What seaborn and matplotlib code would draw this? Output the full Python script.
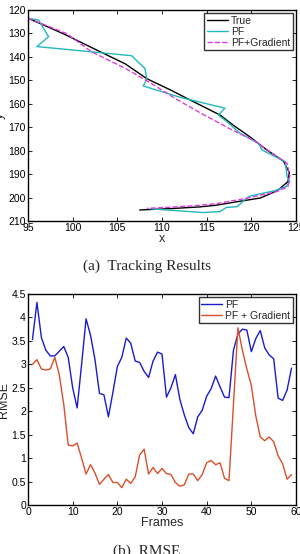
import numpy as np
import pandas as pd
import seaborn as sns
import matplotlib.pyplot as plt

# (a) tracking trajectories
true_x = [95.0, 99.0, 102.7, 105.9, 108.3, 111.0, 113.1, 116.5, 118.0, 119.8, 121.7, 123.6,
          124.25, 124.1, 123.0, 122.1, 121.0, 118.7, 116.0, 114.2, 111.0, 107.5]
true_y = [123.5, 130.2, 137.1, 143.0, 149.3, 154.2, 158.3, 164.8, 169.2, 174.0, 179.6, 184.5,
          189.3, 193.2, 196.8, 198.4, 200.2, 201.6, 203.3, 204.0, 204.7, 205.3]
pf_x = [95.0, 96.2, 97.3, 96.0, 106.6, 108.1, 108.3, 107.9, 112.0, 117.05, 116.3, 117.2,
        118.7, 120.8, 121.2, 123.8, 124.0, 124.3, 123.9, 122.6, 119.8, 119.3, 118.4, 117.2,
        116.5, 114.6, 108.7]
pf_y = [123.5, 124.3, 131.4, 135.6, 139.5, 145.0, 149.5, 152.4, 157.2, 161.9, 164.8, 167.4,
        172.5, 176.9, 179.7, 184.7, 191.1, 193.2, 195.3, 197.1, 199.4, 200.8, 203.9, 204.2,
        206.0, 206.4, 204.8]
pg_x = [95.0, 99.3, 102.1, 105.9, 108.8, 111.5, 114.4, 117.5, 120.2, 122.5, 124.0, 124.3,
        124.1, 122.8, 119.5, 116.1, 113.9, 111.0, 108.3]
pg_y = [123.5, 130.0, 137.8, 144.9, 151.3, 157.8, 164.1, 170.5, 175.5, 181.5, 185.4, 190.5,
        195.4, 197.5, 200.3, 202.6, 203.4, 204.1, 204.6]

# (b) RMSE per frame
frames = list(range(1, 60))
rmse_pf = [3.53, 4.32, 3.57, 3.30, 3.18, 3.18, 3.28, 3.38, 3.15, 2.50, 2.07, 3.00, 3.97, 3.62,
           3.10, 2.38, 2.35, 1.88, 2.40, 2.95, 3.15, 3.56, 3.45, 3.07, 3.04, 2.85, 2.72, 3.07,
           3.26, 3.22, 2.30, 2.50, 2.78, 2.25, 1.92, 1.65, 1.52, 1.88, 2.02, 2.32, 2.48, 2.75,
           2.52, 2.30, 2.29, 3.30, 3.65, 3.75, 3.73, 3.27, 3.55, 3.72, 3.35, 3.20, 3.12, 2.28,
           2.23, 2.45, 2.92]
rmse_pg = [3.00, 3.10, 2.90, 2.88, 2.90, 3.15, 2.78, 2.15, 1.28, 1.26, 1.32, 1.00, 0.66, 0.86,
           0.68, 0.44, 0.55, 0.65, 0.48, 0.48, 0.37, 0.55, 0.46, 0.60, 1.07, 1.19, 0.66, 0.80,
           0.67, 0.78, 0.67, 0.65, 0.48, 0.40, 0.43, 0.66, 0.66, 0.52, 0.65, 0.90, 0.95, 0.86,
           0.90, 0.57, 0.52, 2.15, 3.78, 3.30, 2.90, 2.55, 1.90, 1.45, 1.37, 1.45, 1.35, 1.05,
           0.88, 0.55, 0.65]

sns.set_style('ticks')
plt.rcParams['font.family'] = ['Liberation Sans', 'DejaVu Sans']

fig = plt.figure(figsize=(3.0, 5.54), dpi=100)
ax1 = fig.add_axes([28/300, 1 - 221/554, 268/300, 211/554])
ax2 = fig.add_axes([28/300, 1 - 505/554, 268/300, 211/554])

sns.lineplot(x=true_x, y=true_y, sort=False, estimator=None, color='black', lw=1.0,
             label='True', ax=ax1)
sns.lineplot(x=pf_x, y=pf_y, sort=False, estimator=None, color='#22b8bc', lw=1.0,
             label='PF', ax=ax1)
sns.lineplot(x=pg_x, y=pg_y, sort=False, estimator=None, color='#e03ae0', lw=1.0,
             ls='--', label='PF+Gradient', ax=ax1)
ax1.set_xlim(95, 125)
ax1.set_ylim(210, 120)
ax1.set_xticks(range(95, 126, 5))
ax1.set_yticks(range(120, 211, 10))
ax1.set_xlabel('x', fontsize=9, labelpad=0)
ax1.set_ylabel('y', fontsize=9, labelpad=2)

sns.lineplot(x=frames, y=rmse_pf, color='#1a1ad0', lw=1.0, label='PF', ax=ax2)
sns.lineplot(x=frames, y=rmse_pg, color='#d8502a', lw=1.0, label='PF + Gradient', ax=ax2)
ax2.set_xlim(0, 60)
ax2.set_ylim(0, 4.5)
ax2.set_xticks(range(0, 61, 10))
ax2.set_yticks(np.arange(0, 4.51, 0.5))
ax2.set_yticklabels(['0', '0.5', '1', '1.5', '2', '2.5', '3', '3.5', '4', '4.5'])
ax2.set_xlabel('Frames', fontsize=9, labelpad=0)
ax2.set_ylabel('RMSE', fontsize=9, labelpad=1)

for ax in (ax1, ax2):
    ax.tick_params(direction='in', top=True, right=True, labelsize=7.5, length=3,
                   width=0.6, pad=1.5, colors='black')
    for s in ax.spines.values():
        s.set_linewidth(1.0)
        s.set_color('black')
    leg = ax.legend(loc='upper right', fontsize=7.5, frameon=True, fancybox=False,
                    handlelength=2.0, handletextpad=0.3, borderpad=0.25,
                    labelspacing=0.1, borderaxespad=0.3)
    leg.get_frame().set_edgecolor('black')
    leg.get_frame().set_linewidth(1.0)

fig.text(0.49, 1 - 266/554, '(a)  Tracking Results', ha='center', va='center',
         fontsize=11, family='Liberation Serif')
fig.text(0.49, 1 - 545/554, '(b)  RMSE', ha='center', va='top',
         fontsize=11, family='Liberation Serif')

plt.savefig('out.png', dpi=100)
